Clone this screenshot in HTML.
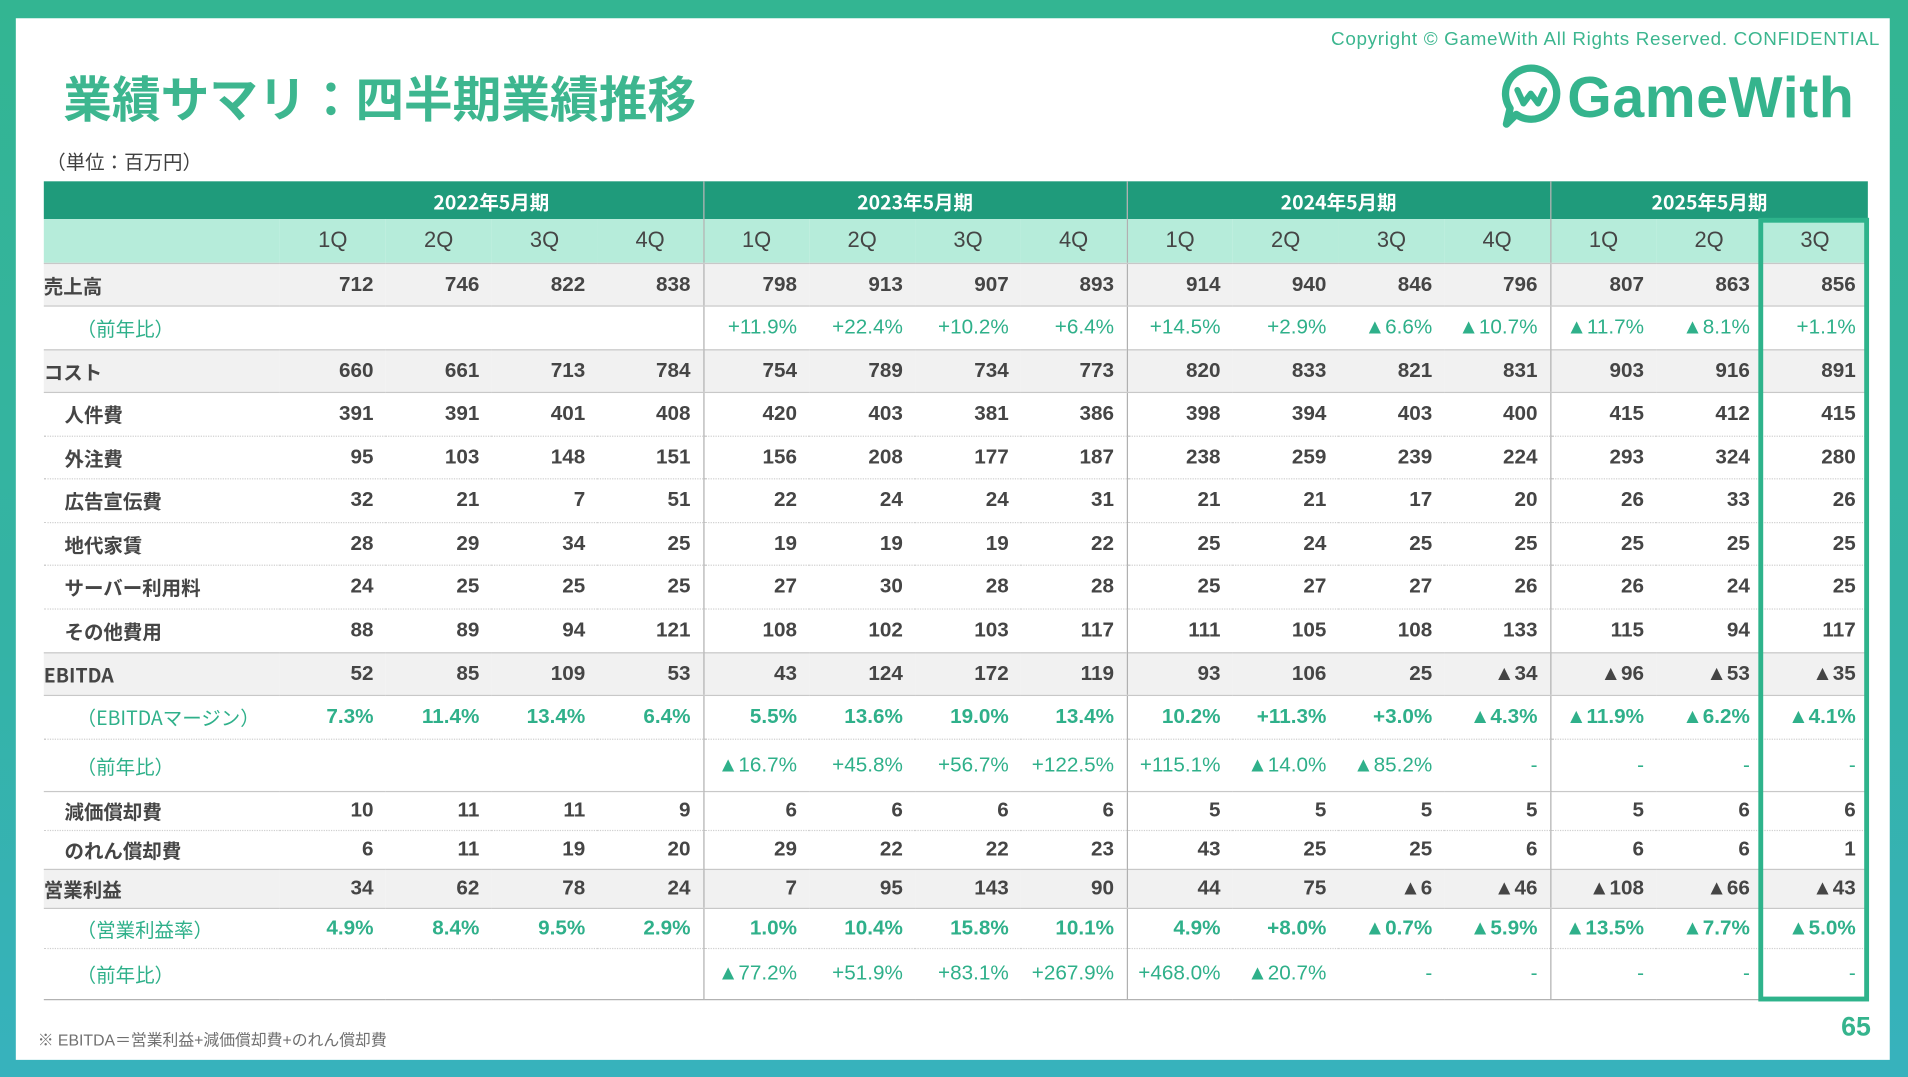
<!DOCTYPE html>
<html><head><meta charset="utf-8">
<style>
*{margin:0;padding:0;box-sizing:border-box}
html,body{width:1908px;height:1077px;overflow:hidden}
body{background:linear-gradient(180deg,#33b592 0%,#34b3a6 60%,#37b2bd 100%)}
#s{position:absolute;left:0;top:0;width:1568px;height:885px;transform:scale(1.21684);transform-origin:0 0;font-family:"Liberation Sans","Noto Sans CJK JP",sans-serif}
#w{position:absolute;left:13px;top:15px;width:1540px;height:856px;background:#fff}
.t{position:absolute;left:52px;top:50px;font-size:40px;font-weight:bold;color:#3db68f;font-family:"Noto Sans CJK JP",sans-serif}
.cp{position:absolute;right:23px;top:24px;font-size:15.5px;color:#3cb68f;letter-spacing:0.55px}
.logo{position:absolute;left:1232px;top:52px;height:56px;color:#35b48d}
.logo .txt{position:absolute;left:56px;top:0px;font-size:47px;font-weight:bold;letter-spacing:0.5px;line-height:56px;font-family:"Liberation Sans",sans-serif}
.u{position:absolute;left:38px;top:120px;font-size:16px;color:#404040;font-family:"Noto Sans CJK JP",sans-serif}
table{position:absolute;left:36px;top:149px;border-collapse:collapse;table-layout:fixed;width:1499px;font-family:"Liberation Sans Narrow","Liberation Sans","Noto Sans CJK JP",sans-serif;font-size:17px;font-weight:bold;color:#454545}
td{padding:0 10px 0 0;text-align:right;white-space:nowrap;overflow:visible}
td:first-child{text-align:left;padding:0;font-family:"Noto Sans CJK JP",sans-serif;font-size:16px}
tr.h1 td{background:#1f9b7b;color:#fff;text-align:center;height:31px;padding:0;font-size:16px;font-family:"Liberation Sans Narrow","Noto Sans CJK JP",sans-serif}
tr.h2 td{background:#b6ecda;text-align:center;height:36px;padding:0;color:#454545;font-weight:normal;font-size:18px;border-bottom:1px solid #c8c8c8}
tr.g td{background:#f1f1f1;border-top:1px solid #c8c8c8;border-bottom:1px solid #c8c8c8}
tr.r td{border-bottom:1px dotted #cfcfcf}
tr.gr td{color:#2fb08a;font-weight:normal}
tr.gr.b td{font-weight:bold}
tr.gr td:first-child{padding-left:27px;font-weight:normal}
tr.sub td:first-child{padding-left:17px}
.v{border-left:1px solid #b0b0b0}
</style></head><body>
<div id="s">
<div id="w"></div>
<div class="t">業績サマリ：四半期業績推移</div>
<div class="cp">Copyright © GameWith All Rights Reserved. CONFIDENTIAL</div>
<div class="logo">
<svg width="52" height="54" viewBox="0 0 52 54"><path d="M26 4a21 21 0 1 1-12 38l-8 8 3-13A21 21 0 0 1 26 4z" fill="none" stroke="#35b48d" stroke-width="6" stroke-linejoin="round"/><path d="M15 22l5 11 6-8 6 8 5-11" fill="none" stroke="#35b48d" stroke-width="5" stroke-linecap="round" stroke-linejoin="round"/></svg>
<div class="txt">GameWith</div></div>
<div class="u">（単位：百万円）</div>
<table>
<colgroup><col style="width:194px"><col span="15" style="width:87px"></colgroup>
<tr class="h1"><td colspan="5" style="padding-left:194px">2022年5月期</td><td colspan="4" class="v">2023年5月期</td><td colspan="4" class="v">2024年5月期</td><td colspan="3" class="v">2025年5月期</td></tr>
<tr class="h2"><td></td><td>1Q</td><td>2Q</td><td>3Q</td><td>4Q</td><td class="v">1Q</td><td>2Q</td><td>3Q</td><td>4Q</td><td class="v">1Q</td><td>2Q</td><td>3Q</td><td>4Q</td><td class="v">1Q</td><td>2Q</td><td>3Q</td></tr>
<tr class="g" style="height:35px"><td>売上高</td><td>712</td><td>746</td><td>822</td><td>838</td><td class="v">798</td><td>913</td><td>907</td><td>893</td><td class="v">914</td><td>940</td><td>846</td><td>796</td><td class="v">807</td><td>863</td><td>856</td></tr>
<tr class="gr" style="height:36px"><td>（前年比）</td><td></td><td></td><td></td><td></td><td class="v">+11.9%</td><td>+22.4%</td><td>+10.2%</td><td>+6.4%</td><td class="v">+14.5%</td><td>+2.9%</td><td>▲6.6%</td><td>▲10.7%</td><td class="v">▲11.7%</td><td>▲8.1%</td><td>+1.1%</td></tr>
<tr class="g" style="height:35px"><td>コスト</td><td>660</td><td>661</td><td>713</td><td>784</td><td class="v">754</td><td>789</td><td>734</td><td>773</td><td class="v">820</td><td>833</td><td>821</td><td>831</td><td class="v">903</td><td>916</td><td>891</td></tr>
<tr class="r sub" style="height:36px"><td>人件費</td><td>391</td><td>391</td><td>401</td><td>408</td><td class="v">420</td><td>403</td><td>381</td><td>386</td><td class="v">398</td><td>394</td><td>403</td><td>400</td><td class="v">415</td><td>412</td><td>415</td></tr>
<tr class="r sub" style="height:35px"><td>外注費</td><td>95</td><td>103</td><td>148</td><td>151</td><td class="v">156</td><td>208</td><td>177</td><td>187</td><td class="v">238</td><td>259</td><td>239</td><td>224</td><td class="v">293</td><td>324</td><td>280</td></tr>
<tr class="r sub" style="height:36px"><td>広告宣伝費</td><td>32</td><td>21</td><td>7</td><td>51</td><td class="v">22</td><td>24</td><td>24</td><td>31</td><td class="v">21</td><td>21</td><td>17</td><td>20</td><td class="v">26</td><td>33</td><td>26</td></tr>
<tr class="r sub" style="height:35px"><td>地代家賃</td><td>28</td><td>29</td><td>34</td><td>25</td><td class="v">19</td><td>19</td><td>19</td><td>22</td><td class="v">25</td><td>24</td><td>25</td><td>25</td><td class="v">25</td><td>25</td><td>25</td></tr>
<tr class="r sub" style="height:36px"><td>サーバー利用料</td><td>24</td><td>25</td><td>25</td><td>25</td><td class="v">27</td><td>30</td><td>28</td><td>28</td><td class="v">25</td><td>27</td><td>27</td><td>26</td><td class="v">26</td><td>24</td><td>25</td></tr>
<tr class="sub" style="height:36px"><td>その他費用</td><td>88</td><td>89</td><td>94</td><td>121</td><td class="v">108</td><td>102</td><td>103</td><td>117</td><td class="v">111</td><td>105</td><td>108</td><td>133</td><td class="v">115</td><td>94</td><td>117</td></tr>
<tr class="g" style="height:35px"><td>EBITDA</td><td>52</td><td>85</td><td>109</td><td>53</td><td class="v">43</td><td>124</td><td>172</td><td>119</td><td class="v">93</td><td>106</td><td>25</td><td>▲34</td><td class="v">▲96</td><td>▲53</td><td>▲35</td></tr>
<tr class="r gr b" style="height:36px"><td>（EBITDAマージン）</td><td>7.3%</td><td>11.4%</td><td>13.4%</td><td>6.4%</td><td class="v">5.5%</td><td>13.6%</td><td>19.0%</td><td>13.4%</td><td class="v">10.2%</td><td>+11.3%</td><td>+3.0%</td><td>▲4.3%</td><td class="v">▲11.9%</td><td>▲6.2%</td><td>▲4.1%</td></tr>
<tr class="gr" style="height:43px"><td>（前年比）</td><td></td><td></td><td></td><td></td><td class="v">▲16.7%</td><td>+45.8%</td><td>+56.7%</td><td>+122.5%</td><td class="v">+115.1%</td><td>▲14.0%</td><td>▲85.2%</td><td>-</td><td class="v">-</td><td>-</td><td>-</td></tr>
<tr class="r sub" style="height:32px"><td style="border-top:1px solid #c8c8c8">減価償却費</td><td style="border-top:1px solid #c8c8c8">10</td><td style="border-top:1px solid #c8c8c8">11</td><td style="border-top:1px solid #c8c8c8">11</td><td style="border-top:1px solid #c8c8c8">9</td><td class="v" style="border-top:1px solid #c8c8c8">6</td><td style="border-top:1px solid #c8c8c8">6</td><td style="border-top:1px solid #c8c8c8">6</td><td style="border-top:1px solid #c8c8c8">6</td><td class="v" style="border-top:1px solid #c8c8c8">5</td><td style="border-top:1px solid #c8c8c8">5</td><td style="border-top:1px solid #c8c8c8">5</td><td style="border-top:1px solid #c8c8c8">5</td><td class="v" style="border-top:1px solid #c8c8c8">5</td><td style="border-top:1px solid #c8c8c8">6</td><td style="border-top:1px solid #c8c8c8">6</td></tr>
<tr class="sub" style="height:32px"><td>のれん償却費</td><td>6</td><td>11</td><td>19</td><td>20</td><td class="v">29</td><td>22</td><td>22</td><td>23</td><td class="v">43</td><td>25</td><td>25</td><td>6</td><td class="v">6</td><td>6</td><td>1</td></tr>
<tr class="g" style="height:32px"><td>営業利益</td><td>34</td><td>62</td><td>78</td><td>24</td><td class="v">7</td><td>95</td><td>143</td><td>90</td><td class="v">44</td><td>75</td><td>▲6</td><td>▲46</td><td class="v">▲108</td><td>▲66</td><td>▲43</td></tr>
<tr class="r gr b" style="height:33px"><td>（営業利益率）</td><td>4.9%</td><td>8.4%</td><td>9.5%</td><td>2.9%</td><td class="v">1.0%</td><td>10.4%</td><td>15.8%</td><td>10.1%</td><td class="v">4.9%</td><td>+8.0%</td><td>▲0.7%</td><td>▲5.9%</td><td class="v">▲13.5%</td><td>▲7.7%</td><td>▲5.0%</td></tr>
<tr class="gr" style="height:42px"><td style="border-bottom:1px solid #b0b0b0">（前年比）</td><td style="border-bottom:1px solid #b0b0b0"></td><td style="border-bottom:1px solid #b0b0b0"></td><td style="border-bottom:1px solid #b0b0b0"></td><td style="border-bottom:1px solid #b0b0b0"></td><td class="v" style="border-bottom:1px solid #b0b0b0">▲77.2%</td><td style="border-bottom:1px solid #b0b0b0">+51.9%</td><td style="border-bottom:1px solid #b0b0b0">+83.1%</td><td style="border-bottom:1px solid #b0b0b0">+267.9%</td><td class="v" style="border-bottom:1px solid #b0b0b0">+468.0%</td><td style="border-bottom:1px solid #b0b0b0">▲20.7%</td><td style="border-bottom:1px solid #b0b0b0">-</td><td style="border-bottom:1px solid #b0b0b0">-</td><td class="v" style="border-bottom:1px solid #b0b0b0">-</td><td style="border-bottom:1px solid #b0b0b0">-</td><td style="border-bottom:1px solid #b0b0b0">-</td></tr>
</table>
<div style="position:absolute;left:1445px;top:179px;width:91px;height:644px;border:4px solid #2eb38b"></div>
<div style="position:absolute;left:31px;top:844px;font-size:13px;color:#707070;font-family:'Liberation Sans','Noto Sans CJK JP',sans-serif">※ EBITDA＝営業利益+減価償却費+のれん償却費</div>
<div style="position:absolute;left:1513px;top:831px;font-size:22px;font-weight:bold;color:#35b48d;font-family:'Liberation Sans Narrow','Liberation Sans',sans-serif">65</div>
</div>
</body></html>
